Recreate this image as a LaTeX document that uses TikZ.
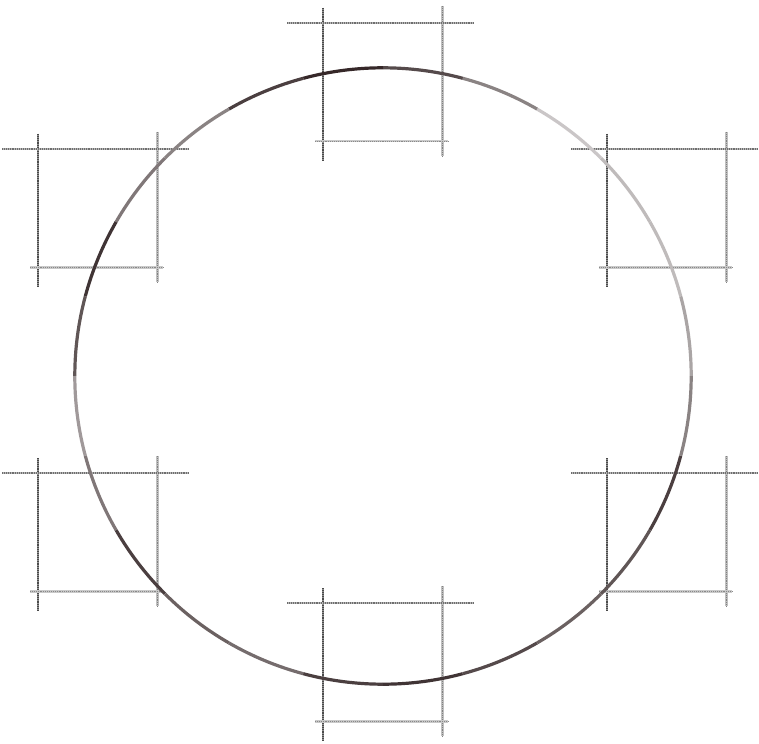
\documentclass[tikz,border=0pt]{standalone}
\usepackage{tikz}
\usetikzlibrary{positioning,calc}
\definecolor{ink}{HTML}{2B1D1E}
\definecolor{lead}{HTML}{4A4A4A}
\tikzset{
  panel/.style={rectangle, draw=none, minimum width=119pt, minimum height=118pt,
                inner sep=0pt, anchor=north west},
  rim/.style={circle, draw=none, minimum size=616pt, inner sep=0pt},
  pencil/.style={line width=2.8pt, draw=lead},
  grain/.style={line width=1.2pt, dash pattern=on 0.8pt off 1.1pt},
  rimline/.style={line width=3.2pt}
}
\begin{document}
\begin{tikzpicture}[x=1pt, y=-1pt]
\useasboundingbox (0,0) rectangle (759,743);

\node[panel] (ptop) at (323,23) {};
\node[panel] (pul) at (38,149) {};
\node[panel] (pur) at (607,149) {};
\node[panel] (pll) at (38,473) {};
\node[panel] (plr) at (607,473) {};
\node[panel] (pbot) at (323,603) {};

% sketched frames, lines run past the corners
\foreach \p in {ptop,pul,pur,pll,plr,pbot}{
  \draw[pencil, draw=lead!60] ($(\p.north west)+(0,-15)$) -- ($(\p.south west)+(0,20)$);
  \draw[grain, draw=lead] ($(\p.north west)+(0,-15)$) -- ($(\p.south west)+(0,20)$);
  \draw[pencil, line width=2.4pt, draw=lead!35] ($(\p.north east)+(0,-17)$) -- ($(\p.south east)+(0,15)$);
  \draw[grain, draw=lead!70] ($(\p.north east)+(0,-17)$) -- ($(\p.south east)+(0,15)$);
  \draw[pencil, line width=2.6pt, draw=lead!40] ($(\p.north west)+(-36,0)$) -- ($(\p.north east)+(32,0)$);
  \draw[grain, draw=lead!80] ($(\p.north west)+(-36,0)$) -- ($(\p.north east)+(32,0)$);
  \draw[pencil, line width=2.2pt, draw=lead!30] ($(\p.south west)+(-8,0)$) -- ($(\p.south east)+(6,0)$);
  \draw[grain, draw=lead!65] ($(\p.south west)+(-8,0)$) -- ($(\p.south east)+(6,0)$);
}

\node[rim] (rim) at (383,376) {};
\foreach \a/\s in {0/40, 15/30, 30/30, 45/25, 60/55, 75/80, 90/95, 105/85,
                   120/55, 135/60, 150/90, 165/75, 180/45, 195/60, 210/85, 225/70,
                   240/65, 255/85, 270/90, 285/80, 300/70, 315/75, 330/85, 345/55}
  \draw[rimline, draw=ink!\s] (rim.\a) arc[start angle=\a, delta angle=15, radius=308pt];
\end{tikzpicture}
\end{document}
